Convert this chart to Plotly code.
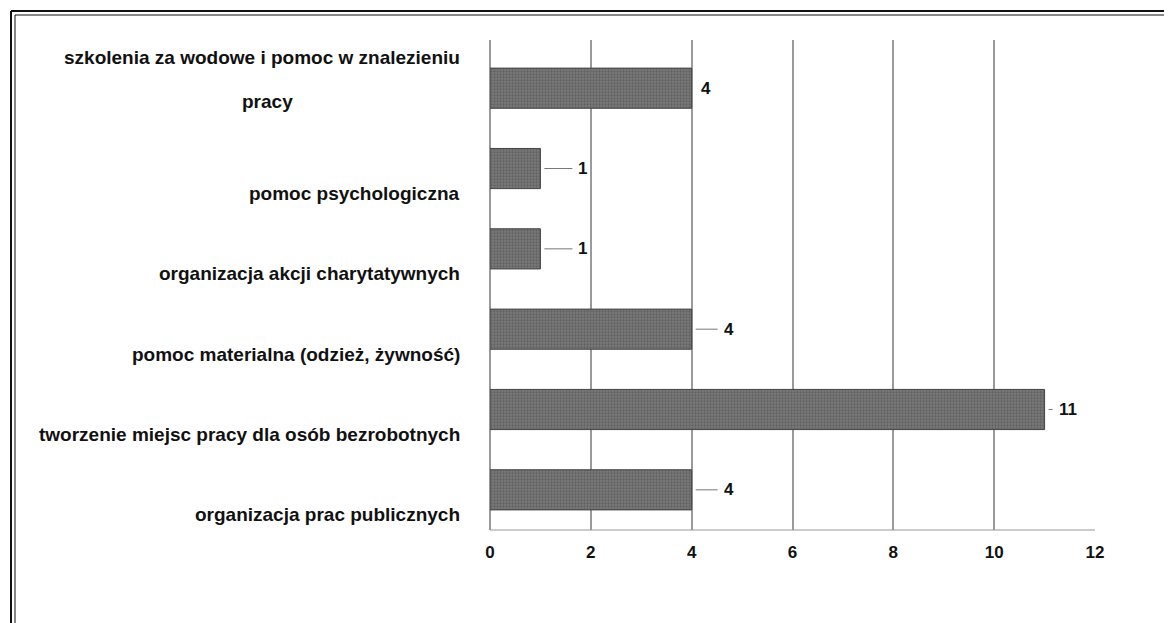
import plotly.graph_objects as go

categories = [
    "organizacja prac publicznych",
    "tworzenie miejsc pracy dla osób bezrobotnych",
    "pomoc materialna (odzież, żywność)",
    "organizacja akcji charytatywnych",
    "pomoc psychologiczna",
    "szkolenia za wodowe i pomoc w znalezieniu pracy",
]
values = [4, 11, 4, 1, 1, 4]
x_ticks = [0, 2, 4, 6, 8, 10, 12]

# the page body has an 8px margin, so the figure is drawn 8px in from the window edge
OFF = 8
W, H = 1172 - OFF, 623 - OFF
ML, MR, MT, MB = 482, 77, 32, 93
pw, ph = W - ML - MR, H - MT - MB


def px_x(p):
    return (p - OFF - ML) / pw


def px_y(p):
    return 1 - (p - OFF - MT) / ph


FONT = "Liberation Sans, Arial, sans-serif"
DARK = "#111111"

fig = go.Figure(
    go.Bar(
        x=values,
        y=categories,
        orientation="h",
        width=0.5,
        marker=dict(
            color="#777777",
            line=dict(color="#444444", width=1),
            pattern=dict(shape=".", fgcolor="#474747", bgcolor="#7a7a7a", size=3, solidity=0.45),
        ),
        hoverinfo="x+y",
    )
)

# category labels, pushed down like the 3D perspective in the original
for cat in categories:
    if cat.startswith("szkolenia"):
        first, second = cat.rsplit(" ", 1)
        fig.add_annotation(
            x=0, xref="paper", y=cat, yref="y", text=f"<b>{first}</b>",
            showarrow=False, xanchor="right", xshift=-28, yshift=31,
            font=dict(family=FONT, size=19, color=DARK),
        )
        fig.add_annotation(
            x=px_x(267), xref="paper", y=cat, yref="y", text=f"<b>{second}</b>",
            showarrow=False, xanchor="center", yshift=-13,
            font=dict(family=FONT, size=19, color=DARK),
        )
        continue
    fig.add_annotation(
        x=0, xref="paper", y=cat, yref="y", text=f"<b>{cat}</b>",
        showarrow=False, xanchor="right", xshift=-28, yshift=-25,
        font=dict(family=FONT, size=19, color=DARK),
    )

# value labels with short leader lines
for cat, v in zip(categories, values):
    if cat.startswith("szkolenia"):
        fig.add_annotation(
            x=v, y=cat, text=f"<b>{v}</b>", showarrow=False,
            xanchor="left", xshift=7,
            font=dict(family=FONT, size=17, color=DARK),
        )
        continue
    lead = {1: 36, 4: 30, 11: 12}[v]
    fig.add_annotation(
        x=v, y=cat, text=f"<b>{v}</b>",
        showarrow=True, arrowhead=0, arrowwidth=1, arrowcolor="#777777",
        ax=lead, ay=0, xanchor="left",
        font=dict(family=FONT, size=17, color=DARK),
        standoff=4, startstandoff=4,
    )

shapes = [
    # double frame on top and left (scanned border)
    dict(type="line", xref="paper", yref="paper", x0=px_x(11), x1=px_x(1172), y0=px_y(11), y1=px_y(11),
         line=dict(color=DARK, width=2)),
    dict(type="line", xref="paper", yref="paper", x0=px_x(15), x1=px_x(1172), y0=px_y(15), y1=px_y(15),
         line=dict(color=DARK, width=1)),
    dict(type="line", xref="paper", yref="paper", x0=px_x(11), x1=px_x(11), y0=px_y(11), y1=px_y(623),
         line=dict(color=DARK, width=2)),
    dict(type="line", xref="paper", yref="paper", x0=px_x(15), x1=px_x(15), y0=px_y(15), y1=px_y(623),
         line=dict(color=DARK, width=1)),
    # floor line
    dict(type="line", xref="paper", yref="paper", x0=0, x1=1, y0=0, y1=0,
         line=dict(color="#999999", width=1)),
]
fig.update_layout(shapes=shapes)

fig.update_layout(
    width=W, height=H,
    margin=dict(l=ML, r=MR, t=MT, b=MB),
    paper_bgcolor="white", plot_bgcolor="white",
    showlegend=False,
    font=dict(family=FONT, color=DARK),
    xaxis=dict(
        range=[0, 12], tickvals=x_ticks, ticktext=[f"<b>{t}</b>" for t in x_ticks],
        showgrid=True, gridcolor="#9a9a9a", gridwidth=1.5,
        zeroline=True, zerolinecolor="#9a9a9a", zerolinewidth=1.5,
        ticks="", ticklabelstandoff=10, tickfont=dict(size=17),
        fixedrange=True,
    ),
    yaxis=dict(
        categoryorder="array", categoryarray=categories, range=[-0.5, 5.6],
        showticklabels=False, showgrid=False, ticks="", fixedrange=True,
    ),
)

fig.write_html("out.html")
